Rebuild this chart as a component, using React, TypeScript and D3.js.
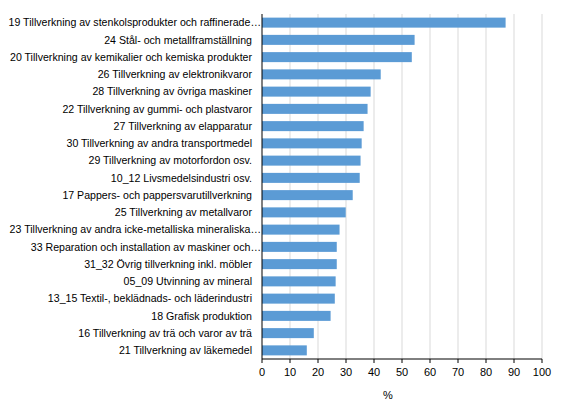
import React from "react";
import * as d3 from "d3";

const categories: string[] = [
  "19 Tillverkning av stenkolsprodukter och raffinerade…",
  "24 Stål- och metallframställning",
  "20 Tillverkning av kemikalier och kemiska produkter",
  "26 Tillverkning av elektronikvaror",
  "28 Tillverkning av övriga maskiner",
  "22 Tillverkning av gummi- och plastvaror",
  "27 Tillverkning av elapparatur",
  "30 Tillverkning av andra transportmedel",
  "29 Tillverkning av motorfordon osv.",
  "10_12 Livsmedelsindustri osv.",
  "17 Pappers- och pappersvarutillverkning",
  "25 Tillverkning av metallvaror",
  "23 Tillverkning av andra icke-metalliska mineraliska…",
  "33 Reparation och installation av maskiner och…",
  "31_32 Övrig tillverkning inkl. möbler",
  "05_09 Utvinning av mineral",
  "13_15 Textil-, beklädnads- och läderindustri",
  "18 Grafisk produktion",
  "16 Tillverkning av trä och varor av trä",
  "21 Tillverkning av läkemedel",
];

const values: number[] = [
  87.0, 54.5, 53.5, 42.4, 38.8, 37.7, 36.3, 35.6, 35.2, 34.9,
  32.4, 29.9, 27.7, 26.7, 26.7, 26.3, 26.0, 24.5, 18.5, 16.0,
];

const xTicks: number[] = [0, 10, 20, 30, 40, 50, 60, 70, 80, 90, 100];
const xTitle = "%";

const W = 567;
const H = 416;
const left = 262;
const right = 542;
const top = 14;
const bottom = 359;

export default function App() {
  const x = d3.scaleLinear().domain([0, 100]).range([left, right]);
  const y = d3
    .scaleBand<string>()
    .domain(categories)
    .range([top, bottom])
    .paddingInner(0.42)
    .paddingOuter(0.21);
  const font = "'Liberation Sans', Arial, sans-serif";

  return (
    <svg
      width={W}
      height={H}
      style={{ position: "absolute", left: 0, top: 0, background: "#fff" }}
    >
      {xTicks.slice(1).map((t) => (
        <line
          key={"g" + t}
          x1={x(t)}
          x2={x(t)}
          y1={top}
          y2={bottom}
          stroke="#d9d9d9"
          strokeWidth={1}
        />
      ))}
      {categories.map((c, i) => (
        <rect
          key={c}
          x={x(0)}
          y={y(c)}
          width={x(values[i]) - x(0)}
          height={y.bandwidth()}
          fill="#5b9bd5"
        />
      ))}
      <line x1={left} x2={left} y1={top} y2={bottom} stroke="#000" />
      <line x1={left} x2={right} y1={bottom} y2={bottom} stroke="#000" />
      {xTicks.map((t) => (
        <g key={"t" + t}>
          <line
            x1={x(t)}
            x2={x(t)}
            y1={bottom}
            y2={bottom + 4}
            stroke="#000"
          />
          <text
            x={x(t)}
            y={bottom + 17}
            textAnchor="middle"
            fontFamily={font}
            fontSize={11}
            fill="#000"
          >
            {t}
          </text>
        </g>
      ))}
      {categories.map((c) => (
        <text
          key={"l" + c}
          x={c.endsWith("…") ? 261 : 252}
          y={(y(c) ?? 0) + y.bandwidth() / 2}
          dy="0.35em"
          textAnchor="end"
          fontFamily={font}
          fontSize={10.6}
          fill="#000"
        >
          {c}
        </text>
      ))}
      <text
        x={388}
        y={399}
        textAnchor="middle"
        fontFamily={font}
        fontSize={11}
        fill="#000"
      >
        {xTitle}
      </text>
    </svg>
  );
}
